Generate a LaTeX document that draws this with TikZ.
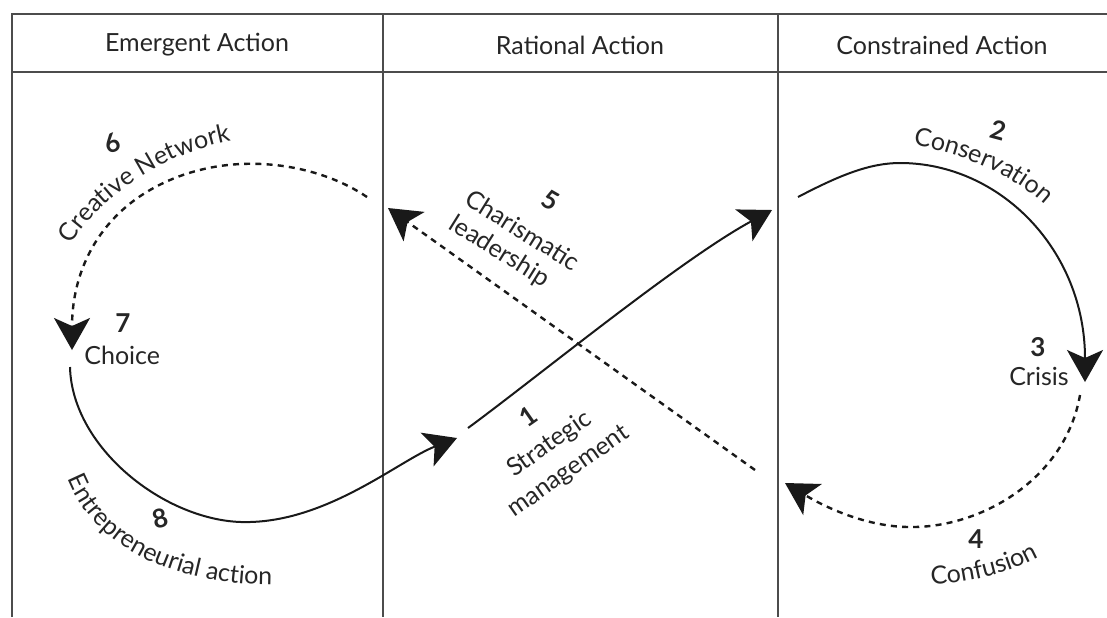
\documentclass[tikz,border=0pt]{standalone}
\usepackage{fontspec}
\setmainfont{Lato}
\usetikzlibrary{arrows.meta,decorations.text}
\newcommand\lblfont{\fontsize{12.5}{15}\selectfont}
\begin{document}
\begin{tikzpicture}[x=0.5pt,y=-0.5pt,
  rule/.style={line width=0.7pt, draw=black!70},
  head/.style={font=\fontsize{12.5}{15}\selectfont, text=black!85},
  lbl/.style={font=\fontsize{12.5}{14.5}\selectfont, text=black!85, inner sep=0pt},
  num/.style={font=\fontsize{13}{15}\selectfont\bfseries, text=black!85, inner sep=0pt},
  flow/.style={line width=1pt, black!90, -{Stealth[length=16pt,width=18pt,inset=4pt]}},
  flowdash/.style={flow, line width=1.2pt, dash pattern=on 3pt off 2.6pt},
  along/.style={decorate, decoration={text along path, text align=center, text color=black!85, text={|\lblfont|#1}}}
]
\useasboundingbox (0,0) rectangle (1107,617);

% table frame
\draw[rule] (12,617) -- (12,14) -- (1107,14);
\draw[rule] (12,72) -- (1107,72);
\draw[rule] (383,14) -- (383,617);
\draw[rule] (778,14) -- (778,617);

% column headings
\node[head] (hEmergent) at (197,45) {Emergent Action};
\node[head] (hRational) at (580,45) {Rational Action};
\node[head] (hConstrained) at (942,45) {Constrained Action};

% end points of the loop segments
\coordinate (s6) at (367,197);  \coordinate (e6) at (72,350);
\coordinate (s8) at (70,367);   \coordinate (e8) at (457,438);
\coordinate (s1) at (468,428);  \coordinate (e1) at (772,210);
\coordinate (s2) at (798,197);  \coordinate (e2) at (1085,382);
\coordinate (s4) at (1080,395); \coordinate (e4) at (785,483);
\coordinate (s5) at (755,470);  \coordinate (e5) at (388,208);

% the figure-of-eight loop
\draw[flowdash] (s6) .. controls (320,165) and (240,150) .. (170,180)
                     .. controls (100,210) and (72,270) .. (e6);
\draw[flow] (s8) .. controls (72,450) and (170,525) .. (250,522)
                 .. controls (330,520) and (400,460) .. (e8);
\draw[flow] (s1) .. controls (540,375) and (680,260) .. (e1);
\draw[flow] (s2) .. controls (840,175) and (870,163) .. (900,163)
                 .. controls (1000,163) and (1085,250) .. (e2);
\draw[flowdash] (s4) .. controls (1065,480) and (980,528) .. (910,527)
                     .. controls (870,527) and (830,510) .. (e4);
\draw[flowdash] (s5) -- (e5);

% stage labels
\node[num, rotate=20] (n6) at (112,143) {6};
\path[along={Creative Network}] (58,268) .. controls (85,205) and (165,145) .. (258,137);

\node[num] (n7) at (123,323) {7};
\node[lbl, anchor=west] (l7) at (84,355) {Choice};

\node[num, rotate=15] (n8) at (160,518) {8};
\path[along={Entrepreneurial action}] (60,452) .. controls (77,542) and (170,592) .. (300,584);

\node[num, rotate=35] (n1) at (528,416) {1};
\node[lbl, rotate=35, align=center, font=\fontsize{12.5}{16.5}\selectfont] (l1) at (559,458) {Strategic\\management};

\node[num, rotate=-30] (n5) at (551,200) {5};
\node[lbl, rotate=-32, align=left] (l5) at (514,244) {Charismatic\\leadership};

\node[num, rotate=-15] (n2) at (998,130) {2};
\path[along={Conservation}] (903,143) .. controls (950,150) and (1015,172) .. (1052,212);

\node[num] (n3) at (1038,347) {3};
\node[lbl] (l3) at (1039,376) {Crisis};

\node[num] (n4) at (976,539) {4};
\path[along={Confusion}] (916,584) .. controls (960,586) and (1015,574) .. (1052,549);
\end{tikzpicture}
\end{document}
